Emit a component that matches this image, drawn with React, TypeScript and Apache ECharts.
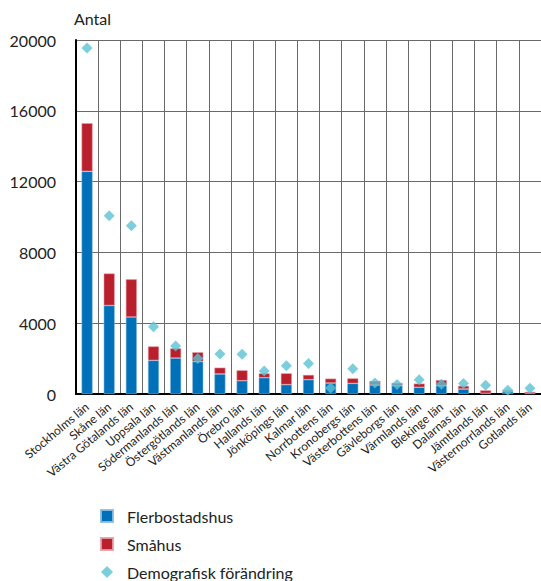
import React, { useEffect, useRef } from "react";
import * as echarts from "echarts";

const categories = [
  "Stockholms län", "Skåne län", "Västra Götalands län", "Uppsala län", "Södermanlands län",
  "Östergötlands län", "Västmanlands län", "Örebro län", "Hallands län", "Jönköpings län",
  "Kalmar län", "Norrbottens län", "Kronobergs län", "Västerbottens län", "Gävleborgs län",
  "Värmlands län", "Blekinge län", "Dalarnas län", "Jämtlands län", "Västernorrlands län", "Gotlands län",
];
const flerbostadshus = [12580, 5000, 4350, 1900, 2030, 1830, 1130, 750, 920, 530, 810, 620, 600, 510, 470, 380, 470, 280, 40, 130, 50];
const smahus = [2720, 1810, 2130, 790, 550, 530, 360, 590, 245, 640, 270, 250, 285, 225, 150, 210, 320, 180, 170, 90, 80];
const demografisk = [19550, 10070, 9510, 3800, 2710, 2010, 2260, 2240, 1300, 1600, 1720, 340, 1430, 620, 530, 810, 550, 590, 490, 215, 330];
const yTicks = { min: 0, max: 20000, interval: 4000 };

const FONT = "Lato, 'Noto Sans', sans-serif";

export default function App() {
  const ref = useRef<HTMLDivElement>(null);
  useEffect(() => {
    document.body.style.margin = "0";
    const chart = echarts.init(ref.current!, null, { renderer: "svg" });
    chart.setOption({
      animation: false,
      backgroundColor: "#ffffff",
      textStyle: { fontFamily: FONT },
      grid: { left: 76, right: -10, top: 40, bottom: 187, containLabel: false },
      legend: {
        orient: "vertical",
        left: 100,
        top: 508,
        padding: 0,
        itemWidth: 12,
        itemHeight: 12,
        itemGap: 12,
        textStyle: { fontSize: 16, lineHeight: 16, color: "#222", fontFamily: FONT, padding: [0, 0, 0, 9] },
        data: [
          { name: "Flerbostadshus", icon: "rect" },
          { name: "Småhus", icon: "rect" },
          { name: "Demografisk förändring", icon: "diamond" },
        ],
      },
      xAxis: {
        type: "category",
        data: categories,
        boundaryGap: true,
        axisLine: { show: true, lineStyle: { color: "#000", width: 2 } },
        axisTick: { show: false },
        splitLine: { show: true, lineStyle: { color: "#6a6a6a", width: 1 } },
        axisLabel: {
          interval: 0,
          rotate: 40,
          fontSize: 12,
          color: "#222",
          margin: 11,
          fontFamily: FONT,
        },
      },
      yAxis: {
        type: "value",
        min: yTicks.min,
        max: yTicks.max,
        interval: yTicks.interval,
        name: "Antal",
        nameLocation: "end",
        nameGap: 14,
        nameTextStyle: { fontSize: 16, color: "#222", align: "left", padding: [0, 0, 0, -2], fontFamily: FONT },
        axisLine: { show: true, lineStyle: { color: "#000", width: 2 } },
        axisTick: { show: false },
        splitLine: { show: true, lineStyle: { color: "#6a6a6a", width: 1 } },
        axisLabel: { fontSize: 16, color: "#222", margin: 20, fontFamily: FONT, formatter: (v: number) => String(v) },
      },
      series: [
        {
          name: "Flerbostadshus",
          type: "bar",
          stack: "total",
          barWidth: "50%",
          data: flerbostadshus,
          itemStyle: { color: "#0070b8", borderColor: "rgba(140,190,225,0.9)", borderWidth: 0.6 },
        },
        {
          name: "Småhus",
          type: "bar",
          stack: "total",
          barWidth: "50%",
          data: smahus,
          itemStyle: { color: "#ba1f2d", borderColor: "rgba(230,160,170,0.9)", borderWidth: 0.6 },
        },
        {
          name: "Demografisk förändring",
          type: "scatter",
          symbol: "diamond",
          symbolSize: 11,
          data: demografisk,
          itemStyle: { color: "#5bc2d3" },
          z: 5,
        },
      ],
    });
    return () => chart.dispose();
  }, []);
  return <div ref={ref} style={{ position: "absolute", left: 0, top: 0, width: 541, height: 581 }} />;
}
